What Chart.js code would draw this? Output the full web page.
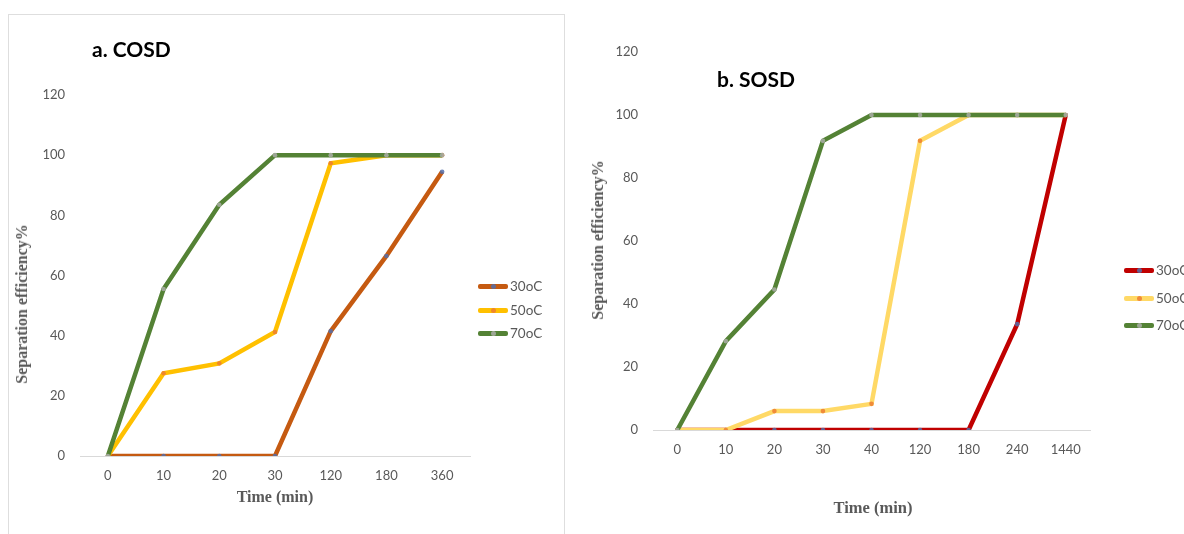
<!DOCTYPE html>
<html>
<head>
<meta charset="utf-8">
<script src="https://cdn.jsdelivr.net/npm/chart.js@4/dist/chart.umd.min.js"></script>
<style>
  html, body { margin: 0; padding: 0; background: #ffffff; }
  body { width: 1184px; height: 534px; position: relative; overflow: hidden; font-family: Lato, "Open Sans", sans-serif; }
  canvas { position: absolute; top: 0; }
  #panelA { position: absolute; left: 8px; top: 14px; width: 557px; height: 530px; border: 1px solid #dedede; box-sizing: border-box; }
  .title { position: absolute; font-family: Lato, sans-serif; font-weight: 700; font-size: 21px; color: #000; line-height: 1; white-space: nowrap; }
  .axTitle { position: absolute; font-family: "Liberation Serif", "DejaVu Serif", serif; font-weight: 700; font-size: 16px; color: #595959; white-space: nowrap; line-height: 1; }
  .legend { position: absolute; }
  .legItem { position: absolute; height: 16px; white-space: nowrap; }
  .legLine { position: absolute; top: 6px; width: 30px; height: 5px; border-radius: 2px; }
  .legDot { position: absolute; top: 6px; left: 13px; width: 5px; height: 5px; border-radius: 50%; }
  .legText { position: absolute; left: 32px; top: 0; font-family: Lato, sans-serif; font-size: 13.5px; color: #595959; line-height: 17px; }
</style>
</head>
<body>
<div id="panelA"></div>
<canvas id="chartA" width="570" height="534" style="left:0px"></canvas>
<canvas id="chartB" width="609" height="534" style="left:575px"></canvas>

<div class="title" style="left:92px; top:38px;">a. COSD</div>
<div class="title" style="left:717px; top:68px;">b. SOSD</div>

<div class="axTitle" style="left:275px; top:497px; transform:translate(-50%,-50%);">Time (min)</div>
<div class="axTitle" style="left:873px; top:508px; transform:translate(-50%,-50%); font-size:16.5px;">Time (min)</div>
<div class="axTitle" style="left:22px; top:304px; transform:translate(-50%,-50%) rotate(-90deg);">Separation efficiency%</div>
<div class="axTitle" style="left:598px; top:240px; transform:translate(-50%,-50%) rotate(-90deg);">Separation efficiency%</div>

<div id="legendA" class="legend" style="left:478px; top:278px;"></div>
<div id="legendB" class="legend" style="left:1124px; top:262px;"></div>

<script>
// Sampling times (min) and separation efficiency (%) for each temperature
const seriesNames = ['30oC', '50oC', '70oC'];

const cosdTimes = ['0', '10', '20', '30', '120', '180', '360'];
const cosd30 = [0, 0, 0, 0, 41.5, 66.5, 94.5];
const cosd50 = [0, 27.5, 30.8, 41.2, 97.3, 100, 100];
const cosd70 = [0, 55.5, 83.5, 100, 100, 100, 100];

const sosdTimes = ['0', '10', '20', '30', '40', '120', '180', '240', '1440'];
const sosd30 = [0, 0, 0, 0, 0, 0, 0, 33.6, 100];
const sosd50 = [0, 0, 6, 6, 8.3, 91.8, 100, 100, 100];
const sosd70 = [0, 28.2, 44.6, 91.8, 100, 100, 100, 100, 100];

const yMin = 0, yMax = 120, yStep = 20;

const cosdColors = ['#C55A11', '#FFC000', '#548235'];
const sosdColors = ['#C00000', '#FFD966', '#548235'];
const markerColors = ['rgba(84,110,170,0.85)', 'rgba(237,125,49,0.85)', 'rgba(165,170,160,0.9)'];

function makeDatasets(values, colors) {
  return values.map((v, i) => ({
    label: seriesNames[i],
    data: v,
    borderColor: colors[i],
    backgroundColor: colors[i],
    borderWidth: 4.5,
    pointRadius: 2.3,
    pointBorderWidth: 0,
    pointBackgroundColor: markerColors[i],
    pointHoverRadius: 2.3,
    tension: 0,
    order: 3 - i
  }));
}

function makeChart(id, labels, datasets, pad, xAxisHeight) {
  return new Chart(document.getElementById(id), {
    type: 'line',
    data: { labels: labels, datasets: datasets },
    options: {
      responsive: false,
      animation: false,
      events: [],
      layout: { padding: pad },
      plugins: { legend: { display: false }, tooltip: { enabled: false }, title: { display: false } },
      scales: {
        x: {
          type: 'category',
          offset: true,
          grid: { display: false, drawTicks: false },
          border: { display: true, color: '#d9d9d9', width: 1 },
          ticks: { color: '#595959', padding: 12, font: { family: 'Lato', size: 13 }, maxRotation: 0, autoSkip: false },
          afterFit: s => { s.height = xAxisHeight; }
        },
        y: {
          min: yMin, max: yMax,
          grid: { display: false, drawTicks: false },
          border: { display: false },
          ticks: { stepSize: yStep, color: '#595959', padding: 15, font: { family: 'Lato', size: 13 } },
          afterFit: s => { s.width = 40; }
        }
      }
    }
  });
}

makeChart('chartA', cosdTimes, makeDatasets([cosd30, cosd50, cosd70], cosdColors),
  { left: 40, right: 100, top: 95, bottom: 0 }, 78);
makeChart('chartB', sosdTimes, makeDatasets([sosd30, sosd50, sosd70], sosdColors),
  { left: 38, right: 94, top: 52, bottom: 0 }, 104);

function buildLegend(id, colors, gap) {
  const box = document.getElementById(id);
  seriesNames.forEach((name, i) => {
    const item = document.createElement('div');
    item.className = 'legItem';
    item.style.top = (i * gap) + 'px';
    item.innerHTML = '<div class="legLine" style="background:' + colors[i] + '"></div>' +
      '<div class="legDot" style="background:' + markerColors[i] + '"></div>' +
      '<div class="legText">' + name + '</div>';
    box.appendChild(item);
  });
}
buildLegend('legendA', cosdColors, 23.5);
buildLegend('legendB', sosdColors, 27.5);
</script>
</body>
</html>
